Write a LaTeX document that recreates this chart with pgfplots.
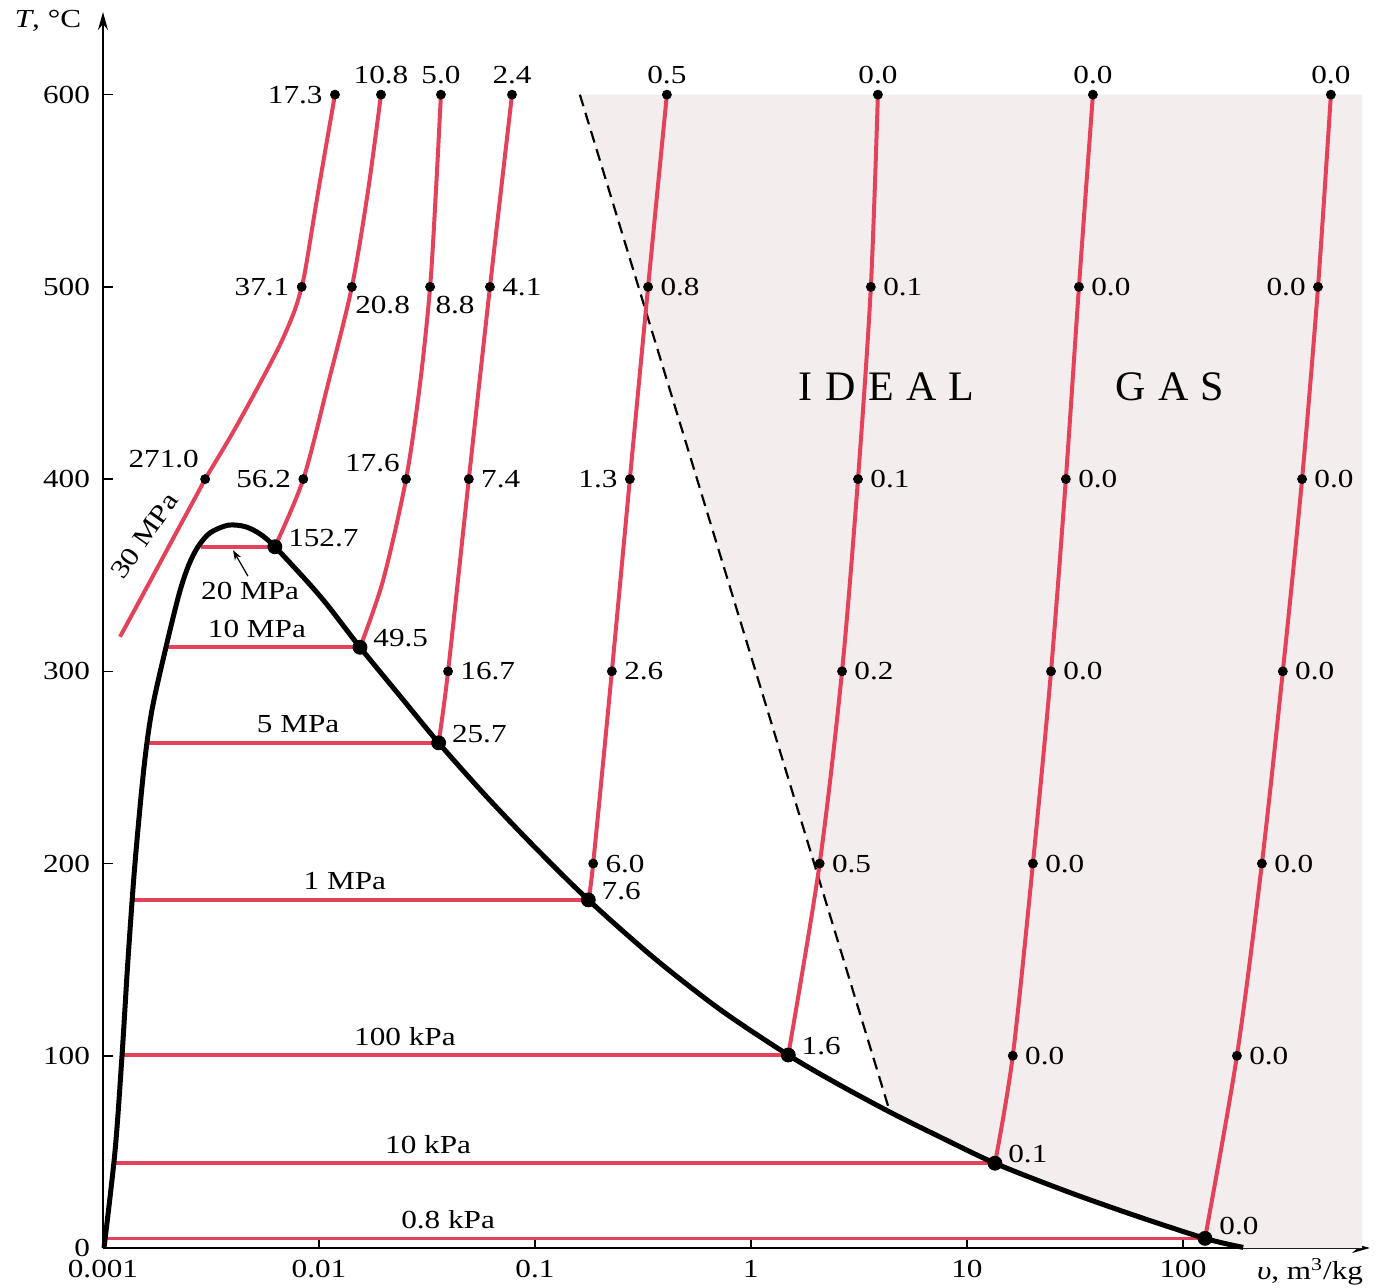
\documentclass[border=0pt]{standalone}
\usepackage{fontspec}
\setmainfont{Liberation Serif}[FakeStretch=1.2]
\newfontfamily\plainserif{Liberation Serif}
\usepackage{pgfplots}
\pgfplotsset{compat=1.18}
\usetikzlibrary{arrows.meta}
\definecolor{isored}{RGB}{228,66,90}
\definecolor{shade}{RGB}{244,237,237}
\newcommand{\lbl}{\fontsize{13}{15}\selectfont}
\tikzset{
  lr/.style={font=\lbl, inner sep=0pt, anchor=west, xshift=6pt},
  ll/.style={font=\lbl, inner sep=0pt, anchor=east, xshift=-6pt},
  la/.style={font=\lbl, inner sep=0pt, anchor=south, yshift=5pt},
  ld/.style={font=\lbl, inner sep=0pt, anchor=west, xshift=6.5pt, yshift=4.5pt},
  lh/.style={font=\lbl, inner sep=0pt, anchor=base, yshift=5pt},
}
\begin{document}
\begin{tikzpicture}[x=1pt,y=1pt]
\begin{axis}[
  at={(0pt,0pt)}, anchor=south west,
  scale only axis, width=633.5pt, height=618pt,
  xmode=log, xmin=0.001, xmax=734.5, ymin=0, ymax=643,
  axis lines=left,
  axis line style={line width=0.8pt, -{Stealth[length=9pt,width=5pt]}},
  xtick={0.001,0.01,0.1,1,10,100}, xticklabels={0.001,0.01,0.1,1,10,100},
  ytick={0,100,200,300,400,500,600},
  tick align=inside, major tick length=5pt, minor tick length=0pt,
  tick style={black, line width=0.8pt},
  ticklabel style={font=\lbl},
  xticklabel style={yshift=-2.5pt},
  yticklabel style={xshift=-3pt},
  /pgf/number format/assume math mode=true,
  clip=false,
]
% ideal gas region
\addplot[fill=shade, draw=none] coordinates {(0.1614,600) (675,600) (675,0) (190,0) (126.5,5.0) (58.9,17.2) (28.9,29.5) (13.48,44.1) (6.98,59.5) (4.40,70.7)} -- cycle;

% dashed boundary
\addplot[black, line width=1.1pt, dash pattern=on 6pt off 3.5pt] coordinates {(0.1614,600) (4.40,70.7)};

% horizontal isobars in the dome
\addplot[isored, line width=1.8pt] coordinates {(0.00285,364.8) (0.00625,364.8)};
\addplot[isored, line width=1.8pt] coordinates {(0.001957,312.5) (0.01549,312.5)};
\addplot[isored, line width=1.8pt] coordinates {(0.001605,262.8) (0.0358,262.8)};
\addplot[isored, line width=1.8pt] coordinates {(0.001368,181.1) (0.1766,181.1)};
\addplot[isored, line width=1.8pt] coordinates {(0.001225,100.4) (1.488,100.4)};
\addplot[isored, line width=1.8pt] coordinates {(0.001124,44.1) (13.48,44.1)};
\addplot[isored, line width=1.8pt] coordinates {(0.00102,5.0) (126.5,5.0)};

% superheated isobars
\addplot[isored, line width=2pt, smooth] coordinates {(0.0011995,318) (0.001637,346) (0.002133,370) (0.002692,391) (0.002972,400) (0.003936,423) (0.005224,448) (0.006607,470) (0.007674,487) (0.008318,500) (0.008741,512) (0.009931,550) (0.011858,600)};
\addplot[isored, line width=2pt, smooth] coordinates {(0.00625,364.8) (0.00846,400) (0.01104,450) (0.0142,500) (0.01687,550) (0.01937,600)};
\addplot[isored, line width=2pt, smooth] coordinates {(0.01549,312.5) (0.01977,347) (0.0253,400) (0.0294,450) (0.0327,500) (0.0348,550) (0.0367,600)};
\addplot[isored, line width=2pt, smooth] coordinates {(0.0358,262.8) (0.0396,300) (0.0494,400) (0.0619,500) (0.0783,600)};
\addplot[isored, line width=2pt, smooth] coordinates {(0.1766,181.1) (0.186,200) (0.227,300) (0.275,400) (0.334,500) (0.408,600)};
\addplot[isored, line width=2pt, smooth] coordinates {(1.488,100.4) (2.08,200) (2.64,300) (3.13,400) (3.59,500) (3.87,600)};
\addplot[isored, line width=2pt, smooth] coordinates {(13.48,44.1) (16.3,100) (20.2,200) (24.5,300) (28.7,400) (33.0,500) (38.3,600)};
\addplot[isored, line width=2pt, smooth] coordinates {(126.5,5.0) (177.8,100) (232,200) (290,300) (356,400) (422,500) (484,600)};

% saturation dome
\addplot[black, line width=2.5pt, smooth, tension=0.5] coordinates {
(0.0010107,0) (0.0011362,50) (0.0012248,100) (0.0013055,150) (0.0014062,200) (0.0015483,250) (0.0016862,280) (0.001957,312.5) (0.002248,340) (0.002488,355) (0.002753,364.8) (0.003128,372) (0.003791,376) (0.004543,375.3) (0.00533,371.5) (0.00625,364.8) (0.00892,346.1) (0.01104,333.9) (0.01549,312.5) (0.02371,287.2) (0.0358,262.8) (0.0597,234.8) (0.1019,207.5) (0.1766,181.1) (0.353,151.2) (0.7187,124.1) (1.488,100.4) (2.49,85.7) (4.40,70.7) (6.98,59.5) (13.48,44.1) (28.9,29.5) (58.9,17.2) (126.5,5.0) (190,0.3)};

% dots
\addplot[only marks, mark=*, mark size=2.25pt, black] coordinates {
(0.002972,400) (0.008318,500) (0.011858,600)
(0.00846,400) (0.0142,500) (0.01937,600)
(0.0253,400) (0.0327,500) (0.0367,600)
(0.0396,300) (0.0494,400) (0.0619,500) (0.0783,600)
(0.186,200) (0.227,300) (0.275,400) (0.334,500) (0.408,600)
(2.08,200) (2.64,300) (3.13,400) (3.59,500) (3.87,600)
(16.3,100) (20.2,200) (24.5,300) (28.7,400) (33.0,500) (38.3,600)
(177.8,100) (232,200) (290,300) (356,400) (422,500) (484,600)};
\addplot[only marks, mark=*, mark size=3.5pt, black] coordinates {
(0.00625,364.8) (0.01549,312.5) (0.0358,262.8) (0.1766,181.1) (1.488,100.4) (13.48,44.1) (126.5,5.0)};

% labels 30 MPa
\node[ll] at (axis cs:0.011858,600) {17.3};
\node[ll] at (axis cs:0.008318,500) {37.1};
\node[font=\lbl, inner sep=0pt, anchor=south east, xshift=-3pt, yshift=5.5pt] at (axis cs:0.002972,400) {271.0};
% 20 MPa
\node[la] at (axis cs:0.01937,600) {10.8};
\node[font=\lbl, inner sep=0pt, anchor=north west, xshift=1.5pt, yshift=-4.5pt] at (axis cs:0.0142,500) {20.8};
\node[ll] at (axis cs:0.00846,400) {56.2};
\node[ld] at (axis cs:0.00625,364.8) {152.7};
% 10 MPa
\node[la] at (axis cs:0.0367,600) {5.0};
\node[font=\lbl, inner sep=0pt, anchor=north west, xshift=2.5pt, yshift=-4.5pt] at (axis cs:0.0327,500) {8.8};
\node[font=\lbl, inner sep=0pt, anchor=south east, xshift=-3pt, yshift=3.5pt] at (axis cs:0.0253,400) {17.6};
\node[ld] at (axis cs:0.01549,312.5) {49.5};
% 5 MPa
\node[la] at (axis cs:0.0783,600) {2.4};
\node[lr] at (axis cs:0.0619,500) {4.1};
\node[lr] at (axis cs:0.0494,400) {7.4};
\node[lr] at (axis cs:0.0396,300) {16.7};
\node[ld] at (axis cs:0.0358,262.8) {25.7};
% 1 MPa
\node[la] at (axis cs:0.408,600) {0.5};
\node[lr] at (axis cs:0.334,500) {0.8};
\node[ll] at (axis cs:0.275,400) {1.3};
\node[lr] at (axis cs:0.227,300) {2.6};
\node[lr] at (axis cs:0.186,200) {6.0};
\node[ld] at (axis cs:0.1766,181.1) {7.6};
% 100 kPa
\node[la] at (axis cs:3.87,600) {0.0};
\node[lr] at (axis cs:3.59,500) {0.1};
\node[lr] at (axis cs:3.13,400) {0.1};
\node[lr] at (axis cs:2.64,300) {0.2};
\node[lr] at (axis cs:2.08,200) {0.5};
\node[ld] at (axis cs:1.488,100.4) {1.6};
% 10 kPa
\node[la] at (axis cs:38.3,600) {0.0};
\node[lr] at (axis cs:33.0,500) {0.0};
\node[lr] at (axis cs:28.7,400) {0.0};
\node[lr] at (axis cs:24.5,300) {0.0};
\node[lr] at (axis cs:20.2,200) {0.0};
\node[lr] at (axis cs:16.3,100) {0.0};
\node[ld] at (axis cs:13.48,44.1) {0.1};
% 0.8 kPa
\node[la] at (axis cs:484,600) {0.0};
\node[ll] at (axis cs:422,500) {0.0};
\node[lr] at (axis cs:356,400) {0.0};
\node[lr] at (axis cs:290,300) {0.0};
\node[lr] at (axis cs:232,200) {0.0};
\node[lr] at (axis cs:177.8,100) {0.0};
\node[font=\lbl, inner sep=0pt, anchor=west, xshift=7pt, yshift=6pt] at (axis cs:126.5,5.0) {0.0};

% pressure labels
\node[lh] at (axis cs:0.00516,312.5) {10 MPa};
\node[font=\lbl, inner sep=0pt, anchor=base] at (axis cs:0.0048,337.2) {20 MPa};
\draw[-{Stealth[length=5pt,width=3.5pt]}, line width=0.6pt] (axis cs:0.00469,349.5) -- (axis cs:0.0040,363);
\node[lh] at (axis cs:0.0080,262.8) {5 MPa};
\node[lh] at (axis cs:0.01318,181.1) {1 MPa};
\node[lh] at (axis cs:0.0250,100.4) {100 kPa};
\node[lh] at (axis cs:0.0320,44.1) {10 kPa};
\node[lh] at (axis cs:0.0396,5.0) {0.8 kPa};
\node[font=\lbl, inner sep=0pt, rotate=55] at (axis cs:0.00156,370.5) {30 MPa};

\node[font=\plainserif\fontsize{21}{24}\selectfont, inner sep=0pt, anchor=base] at (axis cs:4.25,441) {I\kern6.2pt D\kern6.2pt E\kern6.2pt A\kern6.2pt L};
\node[font=\plainserif\fontsize{21}{24}\selectfont, inner sep=0pt, anchor=base] at (axis cs:86.9,441) {G\kern6.2pt A\kern6.2pt S};
\end{axis}
\node[font=\lbl, inner sep=0pt] at (-27.5pt,613.5pt) {\textit{T}, °C};
\node[font=\lbl, inner sep=0pt] at (603.5pt,-12pt) {\textit{υ}, m\textsuperscript{3}/kg};
\pgfresetboundingbox
\path[use as bounding box] (-51.5pt,-19.5pt) rectangle (637pt,624pt);
\end{tikzpicture}
\end{document}
